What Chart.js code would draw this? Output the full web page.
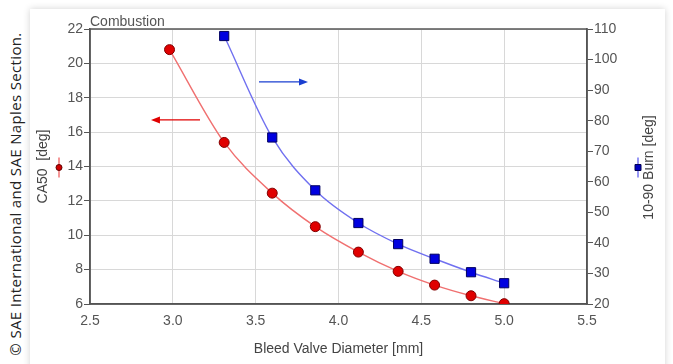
<!DOCTYPE html>
<html>
<head>
<meta charset="utf-8">
<script src="https://cdn.jsdelivr.net/npm/chart.js@4"></script>
<style>
    html, body { margin: 0; padding: 0; background: #fff; }
    body { width: 673px; height: 364px; position: relative; overflow: hidden; }
    #card {
        position: absolute; left: 30px; top: 9px; width: 635px; height: 420px;
        background: #fff; box-shadow: 0 0 7px rgba(0, 0, 0, 0.18);
    }
    #copyright {
        position: absolute; left: 15px; top: 194px; white-space: nowrap;
        transform: translate(-50%, -50%) rotate(-90deg);
        font: 15px "Open Sans", sans-serif; letter-spacing: 0.35px; color: #222;
    }
    canvas { position: absolute; left: 0; top: 0; }
</style>
</head>
<body>
<div id="card"></div>
<div id="copyright">© SAE International and SAE Naples Section.</div>
<canvas id="chart" width="673" height="364"></canvas>
<script>
// bleed valve diameter [mm]
const diameter = [2.98, 3.31, 3.60, 3.86, 4.12, 4.36, 4.58, 4.80, 5.00];
// CA50 [deg] - left axis
const ca50 = [20.8, 15.4, 12.45, 10.5, 9.02, 7.9, 7.1, 6.48, 6.02];
// 10-90 burn [deg] - right axis (no value at the first diameter)
const burn = [null, 107.7, 74.5, 57.2, 46.5, 39.6, 34.8, 30.4, 26.8];

const xTicks = [2.5, 3.0, 3.5, 4.0, 4.5, 5.0, 5.5];
const leftTicks = [6, 8, 10, 12, 14, 16, 18, 20, 22];
const rightTicks = [20, 30, 40, 50, 60, 70, 80, 90, 100, 110];

// direction arrows: [x from, x to, y on left axis]
const arrows = [
    { from: 3.164, to: 2.868, y: 16.71, color: '#e00000' },
    { from: 3.52, to: 3.816, y: 18.92, color: '#1a3fd0' }
];

const font = 'Liberation Sans';

const extras = {
    id: 'extras',
    beforeDatasetsDraw(chart) {
        const ctx = chart.ctx;
        const a = chart.chartArea;
        ctx.save();
        ctx.strokeStyle = '#555';
        ctx.lineWidth = 1.5;
        ctx.strokeRect(a.left, a.top, a.right - a.left, a.bottom - a.top);
        ctx.restore();
    },
    afterDatasetsDraw(chart) {
        const ctx = chart.ctx;
        const a = chart.chartArea;
        const xs = chart.scales.x;
        const yl = chart.scales.y;
        const yr = chart.scales.y2;
        ctx.save();

        // title
        ctx.fillStyle = '#555';
        ctx.font = '14px ' + font;
        ctx.textBaseline = 'alphabetic';
        ctx.fillText('Combustion', a.left, a.top - 3);

        // right axis title, reading bottom to top like the left one
        const cy = (a.top + a.bottom) / 2 + 1;
        ctx.save();
        ctx.translate(yr.right - 16, cy);
        ctx.rotate(-Math.PI / 2);
        ctx.fillStyle = '#444';
        ctx.textAlign = 'center';
        ctx.textBaseline = 'middle';
        ctx.fillText('10-90 Burn [deg]', 0, 0);
        ctx.restore();

        // arrows
        arrows.forEach(ar => {
            const x0 = xs.getPixelForValue(ar.from);
            const x1 = xs.getPixelForValue(ar.to);
            const y = yl.getPixelForValue(ar.y);
            const dir = Math.sign(x1 - x0);
            ctx.strokeStyle = ar.color;
            ctx.fillStyle = ar.color;
            ctx.lineWidth = 1.3;
            ctx.beginPath();
            ctx.moveTo(x0, y);
            ctx.lineTo(x1 - dir * 6, y);
            ctx.stroke();
            ctx.beginPath();
            ctx.moveTo(x1, y);
            ctx.lineTo(x1 - dir * 9, y - 3.5);
            ctx.lineTo(x1 - dir * 9, y + 3.5);
            ctx.closePath();
            ctx.fill();
        });

        // legend markers next to the axis titles
        const mk = (x, line, fill, edge, square) => {
            ctx.strokeStyle = line;
            ctx.lineWidth = 1.3;
            ctx.beginPath();
            ctx.moveTo(x, cy - 10);
            ctx.lineTo(x, cy + 10);
            ctx.stroke();
            ctx.fillStyle = fill;
            ctx.strokeStyle = edge;
            ctx.lineWidth = 1;
            ctx.beginPath();
            if (square) ctx.rect(x - 3, cy - 3, 6, 6);
            else ctx.arc(x, cy, 3, 0, Math.PI * 2);
            ctx.fill();
            ctx.stroke();
        };
        mk(yl.left + 29, '#f06060', '#d00000', '#600000', false);
        mk(yr.right - 27, '#6060f0', '#0000c0', '#000050', true);
        ctx.restore();
    }
};

new Chart(document.getElementById('chart'), {
    type: 'line',
    data: {
        datasets: [{
            label: 'CA50',
            data: diameter.map((d, i) => ({ x: d, y: ca50[i] })),
            yAxisID: 'y',
            borderColor: '#f07070',
            borderWidth: 1.4,
            backgroundColor: '#e00000',
            pointBorderColor: '#800000',
            pointBorderWidth: 1,
            pointRadius: 5,
            cubicInterpolationMode: 'monotone'
        }, {
            label: '10-90 Burn',
            data: diameter.map((d, i) => ({ x: d, y: burn[i] })).filter(p => p.y !== null),
            yAxisID: 'y2',
            borderColor: '#7070f0',
            borderWidth: 1.4,
            backgroundColor: '#0000e0',
            pointBorderColor: '#000060',
            pointBorderWidth: 1,
            pointStyle: 'rect',
            pointRadius: 6.5,
            cubicInterpolationMode: 'monotone'
        }]
    },
    options: {
        responsive: false,
        animation: false,
        layout: { padding: { left: 30, right: 8, top: 29, bottom: 0 } },
        plugins: {
            legend: { display: false },
            tooltip: { enabled: false }
        },
        scales: {
            x: {
                type: 'linear',
                min: 2.5,
                max: 5.5,
                afterBuildTicks: s => { s.ticks = xTicks.map(v => ({ value: v })); },
                afterFit: s => { s.height = 60; },
                grid: { color: '#d8d8d8', drawTicks: false },
                border: { color: '#555', width: 1.5 },
                ticks: {
                    padding: 9,
                    color: '#555',
                    font: { family: font, size: 14 },
                    callback: v => v.toFixed(1)
                },
                title: {
                    display: true,
                    text: 'Bleed Valve Diameter [mm]',
                    color: '#444',
                    font: { family: font, size: 14 },
                    padding: { top: 0, bottom: 6 }
                }
            },
            y: {
                position: 'left',
                min: 6,
                max: 22,
                afterBuildTicks: s => { s.ticks = leftTicks.map(v => ({ value: v })); },
                afterFit: s => { s.width = 60; },
                grid: { color: '#d8d8d8', tickColor: '#555', tickLength: 6 },
                border: { color: '#555', width: 1.5 },
                ticks: { padding: 1, color: '#555', font: { family: font, size: 14 } },
                title: {
                    display: true,
                    text: 'CA50  [deg]',
                    color: '#444',
                    font: { family: font, size: 14 },
                    padding: { top: 5, bottom: 0 }
                }
            },
            y2: {
                position: 'right',
                min: 20,
                max: 110,
                afterBuildTicks: s => { s.ticks = rightTicks.map(v => ({ value: v })); },
                afterFit: s => { s.width = 78; },
                grid: { drawOnChartArea: false, tickColor: '#555', tickLength: 6 },
                border: { color: '#555', width: 1.5 },
                ticks: { padding: 1, color: '#555', font: { family: font, size: 14 } }
            }
        }
    },
    plugins: [extras]
});
</script>
</body>
</html>
